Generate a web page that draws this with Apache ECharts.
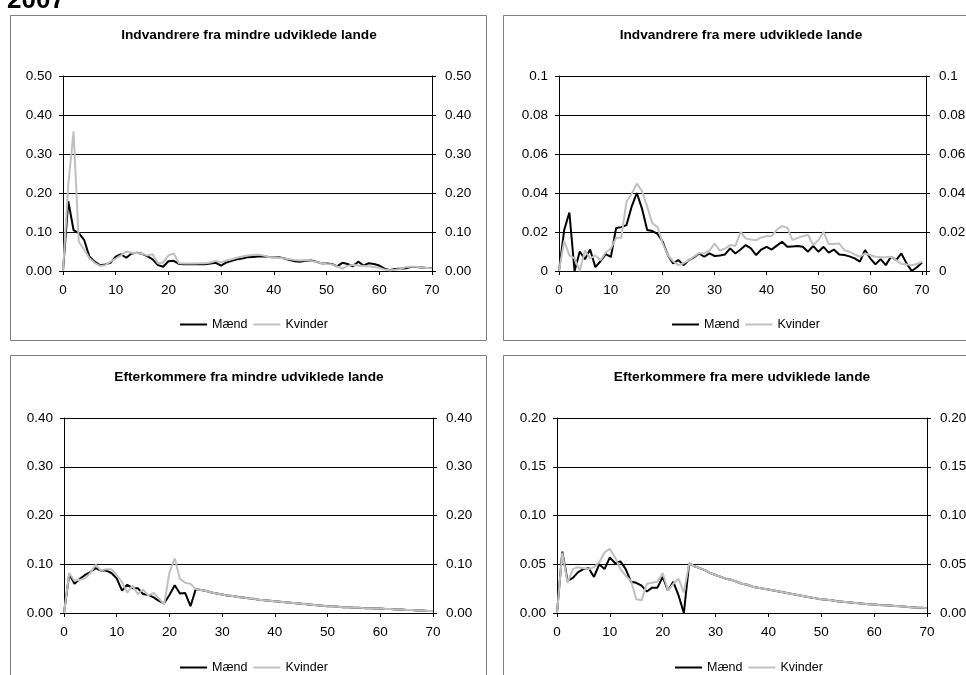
<!DOCTYPE html>
<html>
<head>
<meta charset="utf-8">
<script src="https://cdn.jsdelivr.net/npm/echarts@6/dist/echarts.min.js"></script>
<style>
html,body{margin:0;padding:0;background:#fff;}
#c{width:966px;height:675px;}
</style>
</head>
<body>
<div id="c"></div>
<script>
// ---------- data ----------
const ages = Array.from({length: 71}, (_, i) => i);
const seriesNames = ['Mænd', 'Kvinder'];
const panelTitles = [
  'Indvandrere fra mindre udviklede lande',
  'Indvandrere fra mere udviklede lande',
  'Efterkommere fra mindre udviklede lande',
  'Efterkommere fra mere udviklede lande'
];
const xLabels = ['0', '10', '20', '30', '40', '50', '60', '70'];
const yLabels1 = ['0.00', '0.10', '0.20', '0.30', '0.40', '0.50'];
const yLabels2 = ['0', '0.02', '0.04', '0.06', '0.08', '0.1'];
const yLabels3 = ['0.00', '0.10', '0.20', '0.30', '0.40'];
const yLabels4 = ['0.00', '0.05', '0.10', '0.15', '0.20'];

// Panel 1: Indvandrere fra mindre udviklede lande
const p1Men = [0, 0.179, 0.105, 0.097, 0.080, 0.037, 0.024, 0.015, 0.017, 0.021,
  0.037, 0.043, 0.034, 0.045, 0.047, 0.044, 0.038, 0.030, 0.015, 0.011,
  0.025, 0.026, 0.018, 0.017, 0.017, 0.017, 0.018, 0.017, 0.019, 0.021,
  0.014, 0.022, 0.026, 0.030, 0.032, 0.035, 0.036, 0.037, 0.038, 0.036,
  0.035, 0.035, 0.032, 0.028, 0.025, 0.024, 0.026, 0.027, 0.024, 0.020,
  0.019, 0.018, 0.012, 0.021, 0.018, 0.012, 0.024, 0.014, 0.020, 0.018,
  0.014, 0.006, 0.002, 0.005, 0.006, 0.007, 0.010, 0.010, 0.009, 0.008, 0.008];
const p1Women = [0, 0.220, 0.358, 0.075, 0.055, 0.033, 0.021, 0.013, 0.015, 0.024,
  0.032, 0.040, 0.050, 0.047, 0.046, 0.044, 0.040, 0.043, 0.020, 0.022,
  0.040, 0.045, 0.020, 0.019, 0.019, 0.019, 0.020, 0.020, 0.022, 0.026,
  0.022, 0.027, 0.030, 0.034, 0.037, 0.040, 0.041, 0.042, 0.040, 0.036,
  0.035, 0.034, 0.032, 0.030, 0.028, 0.027, 0.028, 0.026, 0.023, 0.020,
  0.018, 0.017, 0.012, 0.006, 0.013, 0.016, 0.014, 0.013, 0.012, 0.010,
  0.008, 0.004, 0.002, 0.003, 0.005, 0.010, 0.011, 0.011, 0.009, 0.008, 0.007];

// Panel 2: Indvandrere fra mere udviklede lande
const p2Men = [0, 0.021, 0.030, 0, 0.010, 0.006, 0.011, 0.002, 0.005, 0.0086,
  0.0072, 0.022, 0.0225, 0.0235, 0.033, 0.040, 0.032, 0.021, 0.0205, 0.019,
  0.015, 0.008, 0.0039, 0.0056, 0.003, 0.0055, 0.007, 0.009, 0.0073, 0.009,
  0.0077, 0.008, 0.0085, 0.0116, 0.009, 0.011, 0.0133, 0.0116, 0.0082, 0.011,
  0.0124, 0.011, 0.013, 0.015, 0.0124, 0.0126, 0.0128, 0.0124, 0.0099, 0.0128,
  0.0099, 0.0124, 0.0094, 0.011, 0.0085, 0.0082, 0.0075, 0.0065, 0.0048, 0.0107,
  0.0065, 0.0034, 0.0061, 0.003, 0.0073, 0.0056, 0.009, 0.0039, 0, 0.0019, 0.0043];
const p2Women = [0, 0.0155, 0.008, 0.0065, 0, 0.0105, 0.0065, 0.008, 0.0055, 0.0095,
  0.0115, 0.017, 0.017, 0.0355, 0.0395, 0.0448, 0.041, 0.033, 0.0245, 0.0225,
  0.014, 0.008, 0.005, 0.003, 0.004, 0.0055, 0.0073, 0.0092, 0.009, 0.0105,
  0.014, 0.0105, 0.0115, 0.0133, 0.0128, 0.020, 0.0167, 0.0162, 0.0158, 0.0172,
  0.0178, 0.0179, 0.0212, 0.023, 0.0222, 0.0158, 0.017, 0.0178, 0.0186, 0.0133,
  0.0158, 0.020, 0.0138, 0.0138, 0.0141, 0.0107, 0.0099, 0.0085, 0.0073, 0.009,
  0.0082, 0.0073, 0.007, 0.007, 0.0073, 0.0056, 0.0036, 0.0034, 0.003, 0.0036, 0.0048];

// Panel 3: Efterkommere fra mindre udviklede lande (ages 0-24, then common tail 25-70)
const p3MenHead = [0, 0.080, 0.060, 0.070, 0.078, 0.084, 0.092, 0.087, 0.087, 0.082,
  0.071, 0.046, 0.058, 0.051, 0.051, 0.039, 0.037, 0.032, 0.025, 0.020,
  0.037, 0.057, 0.040, 0.041, 0.014];
const p3WomenHead = [0, 0.082, 0.066, 0.068, 0.071, 0.082, 0.099, 0.087, 0.090, 0.090,
  0.078, 0.063, 0.042, 0.056, 0.039, 0.048, 0.036, 0.041, 0.030, 0.018,
  0.083, 0.112, 0.070, 0.062, 0.060];
const p3Tail = [0.049, 0.047, 0.045, 0.042, 0.040, 0.038, 0.036, 0.035, 0.033, 0.032,
  0.030, 0.029, 0.027, 0.026, 0.025, 0.024, 0.023, 0.022, 0.021, 0.020,
  0.019, 0.018, 0.017, 0.016, 0.015, 0.014, 0.014, 0.013, 0.012, 0.012,
  0.011, 0.011, 0.010, 0.010, 0.009, 0.009, 0.008, 0.008, 0.007, 0.007,
  0.006, 0.006, 0.005, 0.005, 0.004, 0.004];

// Panel 4: Efterkommere fra mere udviklede lande (ages 0-24, then common tail 25-70)
const p4MenHead = [0, 0.063, 0.033, 0.036, 0.042, 0.045, 0.046, 0.037, 0.050, 0.045,
  0.057, 0.051, 0.053, 0.045, 0.032, 0.031, 0.028, 0.022, 0.026, 0.026,
  0.037, 0.023, 0.032, 0.018, 0];
const p4WomenHead = [0, 0.062, 0.031, 0.045, 0.047, 0.046, 0.045, 0.047, 0.052, 0.062,
  0.066, 0.057, 0.045, 0.038, 0.033, 0.014, 0.013, 0.030, 0.031, 0.032,
  0.041, 0.023, 0.030, 0.035, 0.021];
const p4Tail = [0.051, 0.048, 0.046, 0.044, 0.041, 0.039, 0.037, 0.035, 0.034, 0.032,
  0.030, 0.029, 0.027, 0.026, 0.025, 0.024, 0.023, 0.022, 0.021, 0.020,
  0.019, 0.018, 0.017, 0.016, 0.015, 0.014, 0.0135, 0.013, 0.012, 0.0115,
  0.011, 0.0105, 0.010, 0.0095, 0.009, 0.0087, 0.0083, 0.008, 0.0076, 0.0072,
  0.0068, 0.0064, 0.006, 0.0056, 0.0053, 0.005];

// ---------- chart ----------
const FONT = '"Liberation Sans", Arial, sans-serif';
const panels = [
  {men: p1Men, women: p1Women, yMax: 0.5, yInt: 0.1, yLabels: yLabels1, xMax: 70,
   grid: {left: 63, top: 76, width: 369, height: 195}, title: {x: 249, y: 28}, legend: {x: 180, y: 318}},
  {men: p2Men, women: p2Women, yMax: 0.1, yInt: 0.02, yLabels: yLabels2, xMax: 70.75,
   grid: {left: 559, top: 76, width: 367, height: 195}, title: {x: 741, y: 28}, legend: {x: 672, y: 318}},
  {men: p3MenHead.concat(p3Tail), women: p3WomenHead.concat(p3Tail), yMax: 0.4, yInt: 0.1, yLabels: yLabels3, xMax: 70,
   grid: {left: 64, top: 418, width: 369, height: 195}, title: {x: 249, y: 370}, legend: {x: 180, y: 661}},
  {men: p4MenHead.concat(p4Tail), women: p4WomenHead.concat(p4Tail), yMax: 0.2, yInt: 0.05, yLabels: yLabels4, xMax: 70,
   grid: {left: 557, top: 418, width: 370, height: 195}, title: {x: 742, y: 370}, legend: {x: 675, y: 661}}
];

const grids = [], xAxes = [], yAxes = [], series = [], titles = [], legends = [];
const colors = ['#000000', '#c0c0c0'];

panels.forEach((p, i) => {
  grids.push(Object.assign({outerBoundsMode: 'none', containLabel: false}, p.grid));
  xAxes.push({
    type: 'value', gridIndex: i, min: 0, max: p.xMax, interval: 10,
    axisLine: {show: true, onZero: false, lineStyle: {color: '#000', width: 1}},
    axisTick: {show: true, length: 4, lineStyle: {color: '#000'}},
    axisLabel: {margin: 12, fontSize: 13.5, color: '#000', fontFamily: FONT,
      showMaxLabel: true, showMinLabel: true,
      formatter: v => (Math.abs(v % 10) < 1e-9 ? xLabels[Math.round(v / 10)] : '')},
    splitLine: {show: false}
  });
  const yBase = {
    type: 'value', gridIndex: i, min: 0, max: p.yMax, interval: p.yInt,
    axisLine: {show: true, lineStyle: {color: '#000', width: 1}},
    axisTick: {show: true, length: 4, lineStyle: {color: '#000'}},
    axisLabel: {fontSize: 13.5, color: '#000', fontFamily: FONT,
      formatter: v => p.yLabels[Math.round(v / p.yInt)]}
  };
  yAxes.push(Object.assign({}, yBase, {position: 'left',
    axisLabel: Object.assign({}, yBase.axisLabel, {margin: 11}),
    splitLine: {show: true, lineStyle: {color: '#000', width: 1}}}));
  yAxes.push(Object.assign({}, yBase, {position: 'right',
    axisLabel: Object.assign({}, yBase.axisLabel, {margin: 13}),
    splitLine: {show: false}}));
  [p.men, p.women].forEach((vals, k) => {
    series.push({
      type: 'line', name: seriesNames[k], xAxisIndex: i, yAxisIndex: 2 * i,
      data: ages.map((a, j) => [a, vals[j]]),
      showSymbol: false, symbol: 'none', silent: true, animation: false,
      color: colors[k],
      itemStyle: {color: colors[k]},
      lineStyle: {color: colors[k], width: 2},
      z: 2 + k
    });
  });
  titles.push({
    text: panelTitles[i], left: p.title.x, top: p.title.y, textAlign: 'center', padding: 0,
    textStyle: {fontSize: 13.7, fontWeight: 'bold', color: '#000', fontFamily: FONT}
  });
  legends.push({
    data: seriesNames, left: p.legend.x, top: p.legend.y, padding: 0, itemGap: 6,
    icon: 'rect', itemWidth: 27, itemHeight: 2, selectedMode: false,
    textStyle: {fontSize: 12.5, color: '#000', fontFamily: FONT}
  });
});

const chart = echarts.init(document.getElementById('c'), null, {renderer: 'canvas'});
chart.setOption({
  animation: false,
  backgroundColor: '#ffffff',
  title: titles,
  legend: legends,
  grid: grids,
  xAxis: xAxes,
  yAxis: yAxes,
  series: series,
  graphic: [
    {type: 'rect', shape: {x: 10.5, y: 15.5, width: 476, height: 325}, style: {fill: null, stroke: '#808080', lineWidth: 1}, silent: true, z: -1},
    {type: 'rect', shape: {x: 503.5, y: 15.5, width: 500, height: 325}, style: {fill: null, stroke: '#808080', lineWidth: 1}, silent: true, z: -1},
    {type: 'rect', shape: {x: 10.5, y: 355.5, width: 476, height: 400}, style: {fill: null, stroke: '#808080', lineWidth: 1}, silent: true, z: -1},
    {type: 'rect', shape: {x: 503.5, y: 355.5, width: 500, height: 400}, style: {fill: null, stroke: '#808080', lineWidth: 1}, silent: true, z: -1},
    {type: 'text', left: 7, top: -12, style: {text: '2007', fontSize: 26, fontWeight: 'bold', fontFamily: FONT, fill: '#000'}, silent: true}
  ]
});
</script>
</body>
</html>
